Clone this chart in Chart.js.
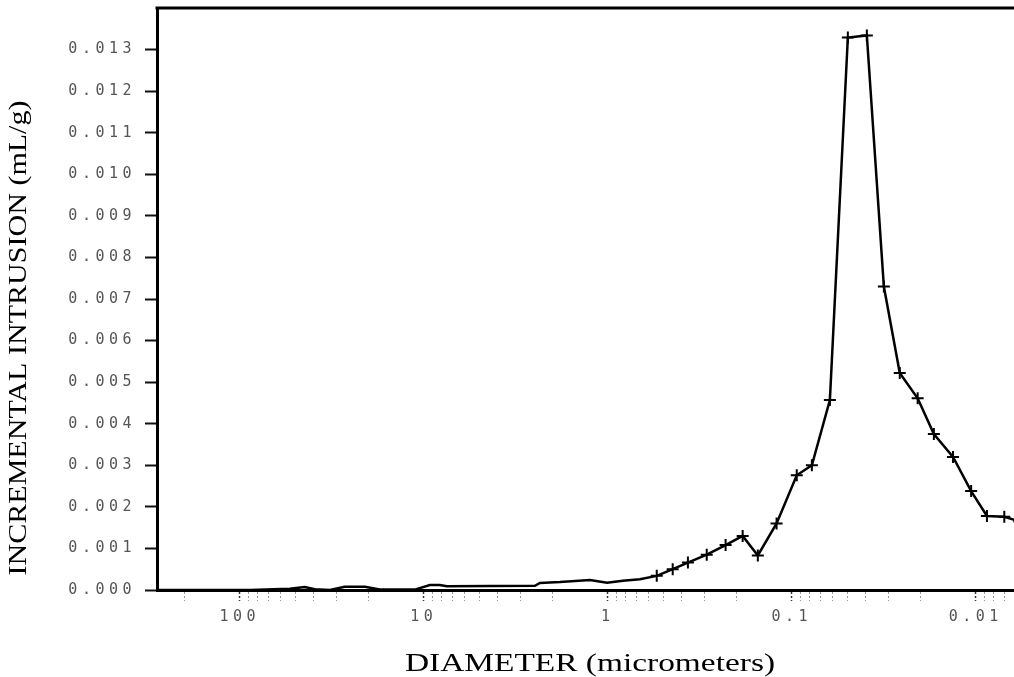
<!DOCTYPE html>
<html>
<head>
<meta charset="utf-8">
<script src="https://cdn.jsdelivr.net/npm/chart.js@4"></script>
<style>
  html, body { margin: 0; padding: 0; background: #fff; }
</style>
</head>
<body>
<canvas id="pore-chart" width="1014" height="677"></canvas>
<script>
// pore diameter (micrometers) and incremental intrusion (mL/g)
const diameters = [282, 88, 53.5, 44.4, 39.1, 32.4, 26.9, 20.9, 17.4, 11.2, 9.27, 8.19, 7.5,
  2.49, 2.34, 1.82, 1.25, 1.01, 0.828, 0.67,
  0.542, 0.444, 0.367, 0.29, 0.229, 0.185, 0.153, 0.121, 0.094, 0.0778, 0.0621,
  0.0496, 0.0391, 0.0316, 0.0259, 0.0207, 0.0169, 0.0133, 0.0106, 0.0087, 0.007, 0.0058];
const intrusion = [0, 0, 0.00003, 0.00007, 0.00002, 0, 0.00008, 0.00008, 0.00001, 0.00001, 0.00012, 0.00012, 0.00009,
  0.0001, 0.00017, 0.00019, 0.00024, 0.000175, 0.00022, 0.00026,
  0.00034, 0.0005, 0.00066, 0.00085, 0.00108, 0.0013, 0.00083, 0.0016, 0.00276, 0.003, 0.00457,
  0.01329, 0.01334, 0.0073, 0.00522, 0.00461, 0.00375, 0.0032, 0.00238, 0.00178, 0.00176, 0.00165];

const xTickLabels = ["100", "10", "1", "0.1", "0.01"];
const yTickLabels = ["0.000", "0.001", "0.002", "0.003", "0.004", "0.005", "0.006",
  "0.007", "0.008", "0.009", "0.010", "0.011", "0.012", "0.013"];
const xTitle = "DIAMETER (micrometers)";
const yTitle = "INCREMENTAL INTRUSION (mL/g)";

const xMin = 0.0062, xMax = 282;

function drawStretched(ctx, text, x, y, width) {
  const w = ctx.measureText(text).width;
  ctx.save();
  ctx.translate(x, y);
  ctx.scale(width / w, 1);
  ctx.fillText(text, 0, 0);
  ctx.restore();
}

const framePlugin = {
  id: "frame",
  beforeDraw(chart) {
    chart.ctx.letterSpacing = "4.5px";
  },
  afterDraw(chart) {
    const { ctx, chartArea: a } = chart;
    ctx.save();
    ctx.letterSpacing = "0px";
    ctx.strokeStyle = "#000";
    ctx.lineWidth = 3;
    ctx.beginPath();
    ctx.moveTo(a.left - 1.5, a.top);
    ctx.lineTo(a.right, a.top);
    ctx.stroke();

    ctx.fillStyle = "#000";
    ctx.font = "25px 'Liberation Serif'";
    ctx.textAlign = "center";
    ctx.textBaseline = "middle";
    drawStretched(ctx, xTitle, 590, 664, 370);
    ctx.translate(19, 338);
    ctx.rotate(-Math.PI / 2);
    drawStretched(ctx, yTitle, 0, 0, 475);
    ctx.restore();
  }
};

const tickFont = { family: "'DejaVu Sans Mono'", size: 15 };

const chart = new Chart(document.getElementById("pore-chart"), {
  type: "line",
  data: {
    datasets: [{
      data: diameters.map((d, i) => ({ x: d, y: intrusion[i] })),
      borderColor: "#000",
      borderWidth: 2.5,
      tension: 0,
      fill: false,
      pointStyle: "cross",
      pointRadius: (c) => (diameters[c.dataIndex] < 0.6 ? 6 : 0),
      pointBorderColor: "#000",
      pointBorderWidth: 2,
    }],
  },
  options: {
    responsive: false,
    animation: false,
    devicePixelRatio: 1,
    layout: { autoPadding: false, padding: { top: 8, left: 0, right: 0, bottom: 0 } },
    plugins: { legend: { display: false }, tooltip: { enabled: false } },
    scales: {
      x: {
        type: "logarithmic",
        reverse: true,
        min: xMin,
        max: xMax,
        afterBuildTicks: (scale) => {
          const ticks = [];
          for (let e = -3; e <= 2; e++) {
            for (let m = 1; m <= 9; m++) {
              const v = +(m * Math.pow(10, e)).toPrecision(6);
              if (v >= xMin && v <= xMax) ticks.push({ value: v, major: m === 1 });
            }
          }
          scale.ticks = ticks;
        },
        afterFit: (scale) => {
          scale.height = 87;
          scale.paddingLeft = 0;
          scale.paddingRight = 0;
        },
        ticks: {
          autoSkip: false,
          maxRotation: 0,
          padding: 7,
          color: "#555",
          font: tickFont,
          callback: (v) => {
            const lab = xTickLabels.find((l) => Math.abs(Math.log10(parseFloat(l)) - Math.log10(v)) < 1e-6);
            return lab || "";
          },
        },
        grid: {
          drawOnChartArea: false,
          tickLength: 11,
          tickColor: (c) => (c.tick && c.tick.major ? "#333" : "#999"),
          tickWidth: (c) => (c.tick && c.tick.major ? 1.5 : 1),
          tickBorderDash: [2, 2],
        },
        border: { display: true, color: "#000", width: 3 },
      },
      y: {
        min: 0,
        max: 0.014,
        afterBuildTicks: (scale) => {
          scale.ticks = yTickLabels.map((l) => ({ value: parseFloat(l) }));
        },
        afterFit: (scale) => {
          scale.width = 157;
          scale.paddingTop = 0;
          scale.paddingBottom = 0;
        },
        ticks: {
          padding: 9,
          color: "#555",
          font: tickFont,
          callback: (v, i) => yTickLabels[i],
        },
        grid: {
          drawOnChartArea: false,
          tickLength: 12,
          tickColor: "#111",
          tickWidth: 2,
        },
        border: { display: true, color: "#000", width: 3 },
      },
    },
  },
  plugins: [framePlugin],
});
</script>
</body>
</html>
